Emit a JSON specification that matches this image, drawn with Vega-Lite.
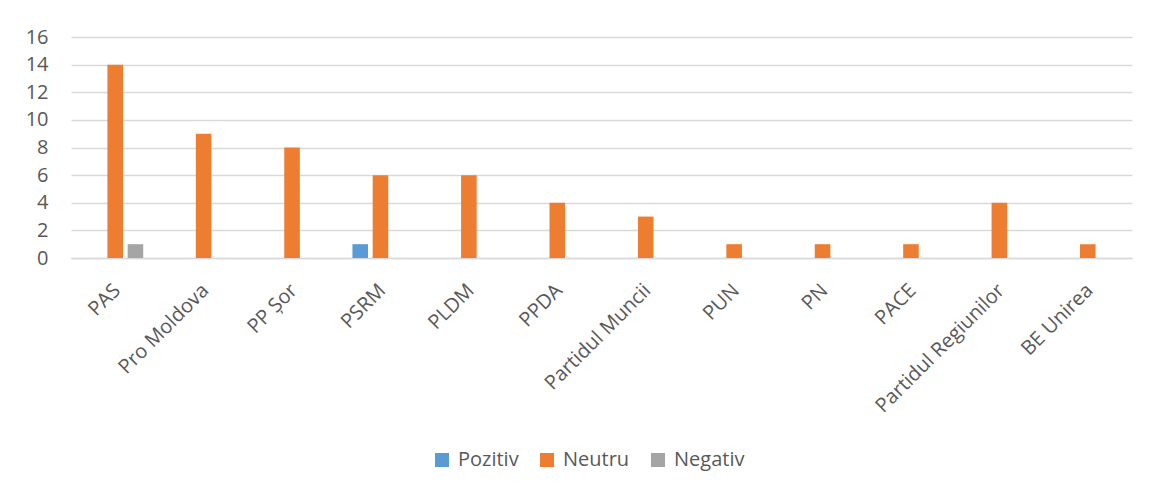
{
  "$schema": "https://vega.github.io/schema/vega-lite/v6.json",
  "width": 1061,
  "height": 221,
  "autosize": {"type": "none"},
  "padding": {"left": 71, "top": 37, "right": 20, "bottom": 237},
  "background": "white",
  "data": {
    "values": [
      {"party": "PAS", "ton": "Neutru", "n": 14},
      {"party": "PAS", "ton": "Negativ", "n": 1},
      {"party": "Pro Moldova", "ton": "Neutru", "n": 9},
      {"party": "PP Șor", "ton": "Neutru", "n": 8},
      {"party": "PSRM", "ton": "Pozitiv", "n": 1},
      {"party": "PSRM", "ton": "Neutru", "n": 6},
      {"party": "PLDM", "ton": "Neutru", "n": 6},
      {"party": "PPDA", "ton": "Neutru", "n": 4},
      {"party": "Partidul Muncii", "ton": "Neutru", "n": 3},
      {"party": "PUN", "ton": "Neutru", "n": 1},
      {"party": "PN", "ton": "Neutru", "n": 1},
      {"party": "PACE", "ton": "Neutru", "n": 1},
      {"party": "Partidul Regiunilor", "ton": "Neutru", "n": 4},
      {"party": "BE Unirea", "ton": "Neutru", "n": 1}
    ]
  },
  "mark": {"type": "bar"},
  "encoding": {
    "x": {
      "field": "party",
      "type": "nominal",
      "sort": null,
      "scale": {"paddingInner": 0, "paddingOuter": 0},
      "axis": {
        "title": null,
        "labelAngle": -45,
        "labelAlign": "right",
        "labelBaseline": "middle",
        "labelFont": "Open Sans",
        "labelFontSize": 20,
        "labelColor": "#595959",
        "labelPadding": 29,
        "labelOffset": 2,
        "labelOverlap": false,
        "ticks": false,
        "domainColor": "#D9D9D9",
        "domainWidth": 1.5,
        "grid": false
      }
    },
    "xOffset": {
      "field": "ton",
      "type": "nominal",
      "scale": {"domain": ["Pozitiv", "Neutru", "Negativ"], "paddingInner": 0.23, "paddingOuter": 0.8}
    },
    "y": {
      "field": "n",
      "type": "quantitative",
      "scale": {"domain": [0, 16], "nice": false},
      "axis": {
        "title": null,
        "values": [0, 2, 4, 6, 8, 10, 12, 14, 16],
        "labelFont": "Open Sans",
        "labelFontSize": 20,
        "labelColor": "#595959",
        "labelPadding": 23,
        "ticks": false,
        "domain": false,
        "gridColor": "#D9D9D9",
        "gridWidth": 1.5
      }
    },
    "color": {
      "field": "ton",
      "type": "nominal",
      "scale": {"domain": ["Pozitiv", "Neutru", "Negativ"], "range": ["#5B9BD5", "#ED7D31", "#A5A5A5"]},
      "legend": {
        "title": null,
        "orient": "none",
        "direction": "horizontal",
        "legendX": 361,
        "legendY": 413,
        "symbolType": "square",
        "symbolSize": 196,
        "symbolStrokeWidth": 0,
        "labelFont": "Open Sans",
        "labelFontSize": 20,
        "labelColor": "#595959",
        "columnPadding": 18,
        "labelOffset": 6
      }
    }
  },
  "config": {"view": {"stroke": null}}
}
